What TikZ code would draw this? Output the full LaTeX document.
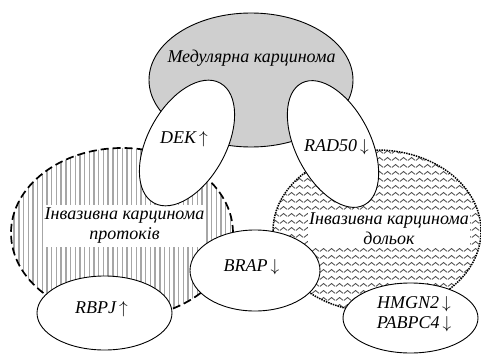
\documentclass[tikz,border=0pt]{standalone}
\usepackage{fontspec}
\setmainfont{Liberation Serif}
\usetikzlibrary{shapes.geometric,patterns,patterns.meta}

% wavy fill of the lobular region
\pgfdeclarepatternformonly{waves}{\pgfpointorigin}{\pgfqpoint{8pt}{6.5pt}}{\pgfqpoint{8pt}{6.5pt}}{%
  \pgfsetlinewidth{0.9pt}
  \pgfpathmoveto{\pgfqpoint{0pt}{1.7pt}}
  \pgfpathcurveto{\pgfqpoint{1pt}{1.7pt}}{\pgfqpoint{3pt}{4.8pt}}{\pgfqpoint{4pt}{4.8pt}}
  \pgfpathcurveto{\pgfqpoint{5pt}{4.8pt}}{\pgfqpoint{7pt}{1.7pt}}{\pgfqpoint{8pt}{1.7pt}}
  \pgfusepath{stroke}}

\begin{document}
\begin{tikzpicture}[x=1pt,y=1pt,
  tumour/.style={ellipse,draw,inner sep=0pt},
  gene/.style={ellipse,draw,fill=white,inner sep=0pt,line width=0.9pt},
  txt/.style={font=\fontsize{18}{20}\selectfont\itshape,align=center,inner sep=0pt},
  boxlbl/.style={txt,fill=white}]
  \useasboundingbox (0,0) rectangle (481,354);
  % tumour types
  \node[tumour,fill=gray!38,line width=0.9pt,minimum width=204,minimum height=134] (med) at (251,274) {};
  \node[tumour,line width=1.7pt,dash pattern=on 8pt off 4pt,pattern={Lines[angle=90,distance=4.7pt,line width=1.4pt]},pattern color=gray!70,minimum width=222,minimum height=170] (duct) at (122,121) {};
  \node[tumour,line width=1.5pt,densely dotted,pattern=waves,pattern color=black!70,minimum width=208,minimum height=162] (lob) at (377,123) {};
  \node[txt] (medlbl) at (251.5,296) {Медулярна карцинома};
  \node[boxlbl,minimum width=155,minimum height=42] (ductlbl) at (124.5,128) {Інвазивна карцинома\\протоків};
  \node[boxlbl,minimum width=162,minimum height=38] (loblbl) at (389,125) {Інвазивна карцинома\\дольок};
  % genes
  \node[gene,minimum width=137,minimum height=78,rotate=61] (dek) at (187,211) {};
  \node[txt] (deklbl) at (184,215) {DEK\,$\uparrow$};
  \node[gene,minimum width=137,minimum height=75,rotate=-63] (rad) at (333,210) {};
  \node[txt] (radlbl) at (336.5,206.5) {RAD50\,$\downarrow$};
  \node[gene,minimum width=130,minimum height=81] (brap) at (255,83.5) {};
  \node[txt] (braplbl) at (251.5,86.5) {BRAP\,$\downarrow$};
  \node[gene,minimum width=135,minimum height=74] (rbpj) at (104.5,41) {};
  \node[txt] (rbpjlbl) at (101.5,45) {RBPJ\,$\uparrow$};
  \node[gene,minimum width=135,minimum height=70] (hmgn) at (410.5,36) {};
  \node[txt] (hmgnlbl) at (414,40) {HMGN2\,$\downarrow$\\PABPC4\,$\downarrow$};
\end{tikzpicture}
\end{document}
